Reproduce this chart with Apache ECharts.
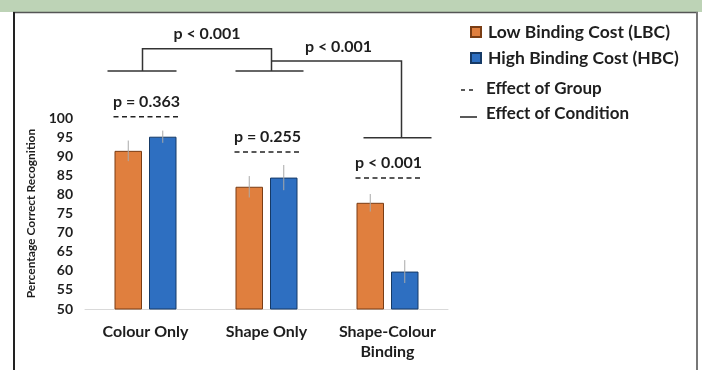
<!DOCTYPE html>
<html><head><meta charset="utf-8">
<script src="https://cdn.jsdelivr.net/npm/echarts@6/dist/echarts.min.js"></script>
<style>html,body{margin:0;padding:0;background:#fff}#c{width:702px;height:370px}</style>
</head><body><div id="c"></div>
<script>
var categories = ['Colour Only', 'Shape Only', 'Shape-Colour\nBinding'];
var lbcValues = [91.4, 82.0, 77.8];
var hbcValues = [95.1, 84.4, 59.8];
var lbcErrors = [2.7, 2.8, 2.3];
var hbcErrors = [1.6, 3.3, 3.0];
var groupPLabels = ['p = 0.363', 'p = 0.255', 'p < 0.001'];
var conditionPLabels = ['p < 0.001', 'p < 0.001'];
var yTicks = [50, 100, 5];

var FONT = 'Lato, "Open Sans", sans-serif';
var TXT = '#1e1e1e';
var BW = 27.5, GAP = 7;
var OFF = (BW + GAP) / 2;

function errSeries(vals, errs, sign, name) {
  return {
    type: 'custom', name: name, silent: true, z: 5,
    data: vals.map(function (v, i) { return [i, v - errs[i], v + errs[i]]; }),
    renderItem: function (params, api) {
      var lo = api.coord([api.value(0), api.value(1)]);
      var hi = api.coord([api.value(0), api.value(2)]);
      var x = lo[0] + sign * OFF;
      return { type: 'line', shape: { x1: x, y1: lo[1], x2: x, y2: hi[1] },
        style: { stroke: '#a9a9a9', lineWidth: 1 } };
    }
  };
}

var annot = {
  type: 'custom', silent: true, clip: false, z: 6,
  data: [[0]],
  renderItem: function (params, api) {
    var c = [0, 1, 2].map(function (i) { return api.coord([i, 50])[0]; });
    function Y(v) { return api.coord([0, v])[1]; }
    var ch = [];
    var st = { stroke: '#333', lineWidth: 1.5 };
    var dash = { stroke: '#222', lineWidth: 1.5, lineDash: [5, 3.5] };
    var dashLv = [100.3, 91.1, 84.3];
    for (var i = 0; i < 3; i++) {
      var y = Y(dashLv[i]);
      var cx = c[i] + 1;
      ch.push({ type: 'line', shape: { x1: cx - 33, y1: y, x2: cx + 34, y2: y }, style: dash });
      ch.push({ type: 'text', x: cx, y: y - 15, style: { text: groupPLabels[i], fill: TXT,
        font: 'bold 16px ' + FONT, align: 'center', verticalAlign: 'middle' } });
    }
    var yb = Y(112.3);
    ch.push({ type: 'line', shape: { x1: c[0] - 38, y1: yb, x2: c[0] + 31, y2: yb }, style: st });
    ch.push({ type: 'line', shape: { x1: c[1] - 31, y1: yb, x2: c[1] + 37, y2: yb }, style: st });
    var yt = Y(118.1);
    var xa = c[0] - 3, xb = c[1] + 5;
    ch.push({ type: 'polyline', shape: { points: [[xa, yb], [xa, yt], [xb, yt], [xb, yb]] }, style: Object.assign({ fill: null }, st) });
    ch.push({ type: 'text', x: (xa + xb) / 2, y: yt - 15, style: { text: conditionPLabels[0], fill: TXT,
      font: 'bold 16px ' + FONT, align: 'center', verticalAlign: 'middle' } });
    var y2 = Y(114.9);
    var ys = Y(94.8);
    var xc = c[2] + 14;
    ch.push({ type: 'polyline', shape: { points: [[xb, y2], [xc, y2], [xc, ys]] }, style: Object.assign({ fill: null }, st) });
    ch.push({ type: 'line', shape: { x1: xc - 38, y1: ys, x2: xc + 30, y2: ys }, style: st });
    ch.push({ type: 'text', x: (xb + xc) / 2 + 2, y: y2 - 14, style: { text: conditionPLabels[1], fill: TXT,
      font: 'bold 16px ' + FONT, align: 'center', verticalAlign: 'middle' } });
    return { type: 'group', children: ch };
  }
};

var chart = echarts.init(document.getElementById('c'), null, { renderer: 'canvas' });
chart.setOption({
  animation: false,
  backgroundColor: '#fff',
  textStyle: { fontFamily: FONT },
  grid: { left: 85, right: 254, top: 118, bottom: 61, containLabel: false },
  legend: {
    orient: 'vertical', left: 465, top: 18, itemWidth: 10, itemHeight: 10, itemGap: 8, icon: 'rect',
    data: ['Low Binding Cost (LBC)', 'High Binding Cost (HBC)'],
    textStyle: { fontFamily: FONT, fontSize: 17.5, fontWeight: 'bold', color: TXT, padding: [0, 0, 0, 2] }
  },
  xAxis: {
    type: 'category', data: categories,
    axisLine: { lineStyle: { color: '#d9d9d9', width: 1 } },
    axisTick: { show: false },
    axisLabel: { interval: 0, color: TXT, fontSize: 16, fontWeight: 'bold', fontFamily: FONT, margin: 13, lineHeight: 20 }
  },
  yAxis: {
    type: 'value', min: yTicks[0], max: yTicks[1], interval: yTicks[2],
    name: 'Percentage Correct Recognition', nameLocation: 'middle', nameGap: 48,
    nameTextStyle: { color: TXT, fontSize: 12, fontWeight: 'bold', fontFamily: FONT },
    axisLine: { show: false }, axisTick: { show: false }, splitLine: { show: false },
    axisLabel: { color: TXT, fontSize: 14, fontWeight: 'bold', fontFamily: FONT, margin: 12 }
  },
  series: [
    { name: 'Low Binding Cost (LBC)', type: 'bar', data: lbcValues, barWidth: BW, barGap: (GAP / BW * 100) + '%',
      itemStyle: { color: '#e07f3e', borderColor: '#7a3d14', borderWidth: 1 } },
    { name: 'High Binding Cost (HBC)', type: 'bar', data: hbcValues, barWidth: BW,
      itemStyle: { color: '#2e6fc1', borderColor: '#163a66', borderWidth: 1 } },
    errSeries(lbcValues, lbcErrors, -1, 'errL'),
    errSeries(hbcValues, hbcErrors, 1, 'errH'),
    annot
  ],
  graphic: [
    { type: 'rect', left: 0, top: 0, shape: { width: 702, height: 12 }, style: { fill: '#bdd3b6' } },
    { type: 'line', shape: { x1: 13, y1: 12.5, x2: 698, y2: 12.5 }, style: { stroke: '#555', lineWidth: 1.5 } },
    { type: 'line', shape: { x1: 14, y1: 12, x2: 14, y2: 370 }, style: { stroke: '#222', lineWidth: 2 } },
    { type: 'line', shape: { x1: 697, y1: 12, x2: 697, y2: 370 }, style: { stroke: '#777', lineWidth: 2 } },
    { type: 'line', shape: { x1: 461, y1: 90, x2: 465, y2: 90 }, style: { stroke: '#222', lineWidth: 1.5 } },
    { type: 'line', shape: { x1: 469, y1: 90, x2: 473, y2: 90 }, style: { stroke: '#222', lineWidth: 1.5 } },
    { type: 'text', x: 486, y: 89, style: { text: 'Effect of Group', fill: TXT, font: 'bold 17px ' + FONT, verticalAlign: 'middle' } },
    { type: 'line', shape: { x1: 460, y1: 117, x2: 477, y2: 117 }, style: { stroke: '#222', lineWidth: 1.5 } },
    { type: 'text', x: 486, y: 114, style: { text: 'Effect of Condition', fill: TXT, font: 'bold 17px ' + FONT, verticalAlign: 'middle' } }
  ]
});
</script></body></html>
